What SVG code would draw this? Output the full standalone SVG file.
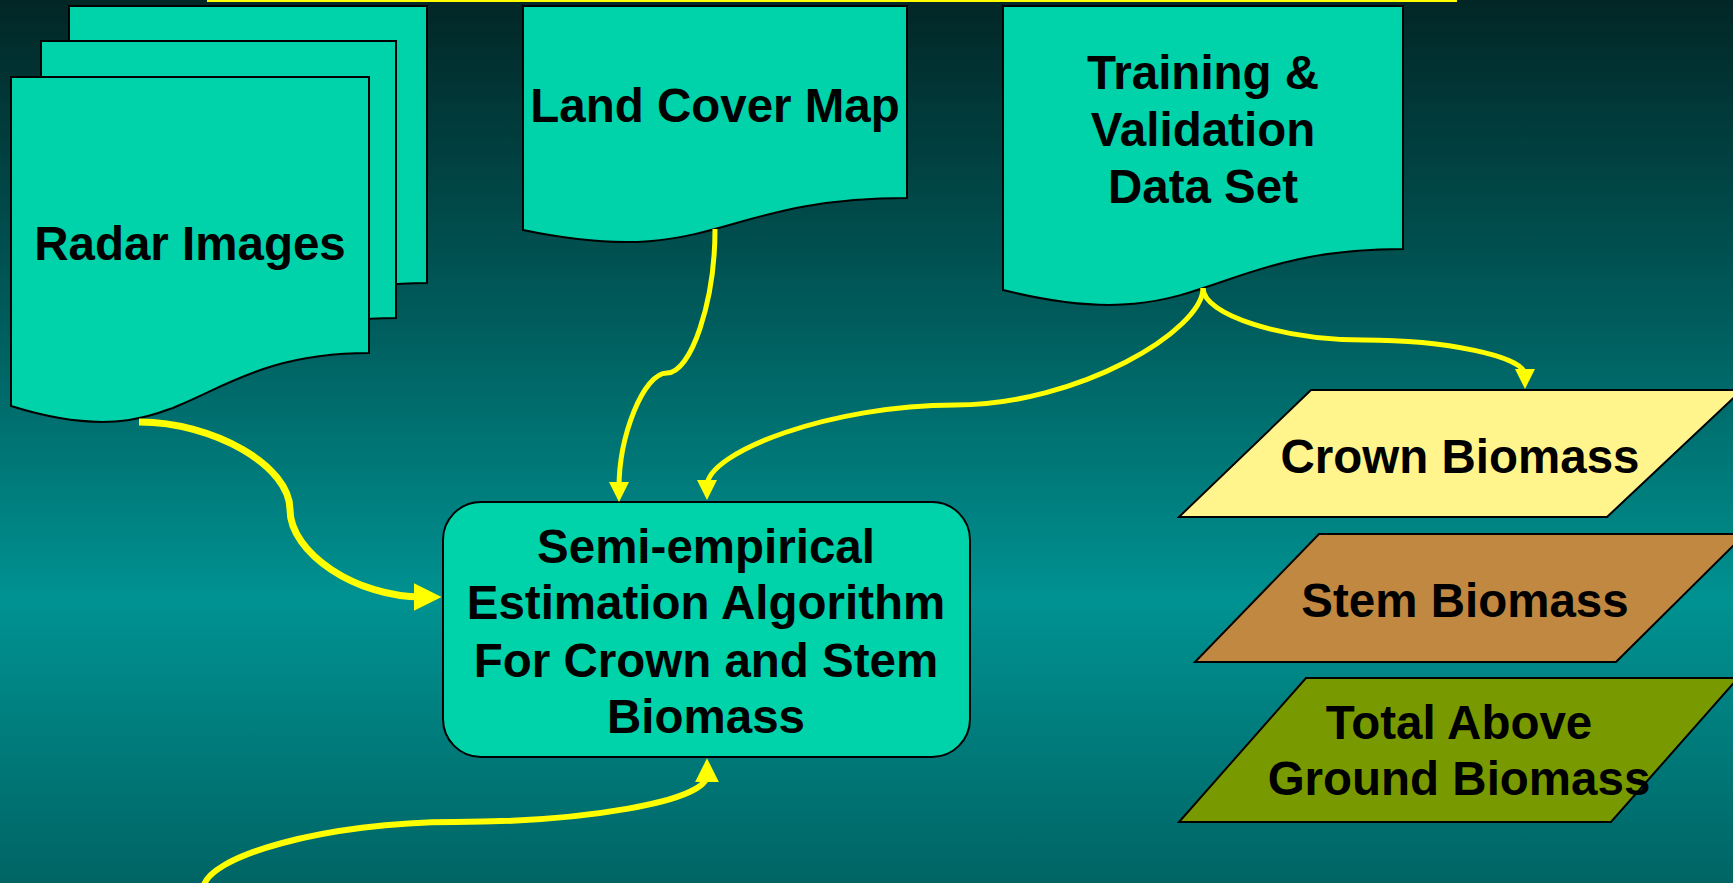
<svg xmlns="http://www.w3.org/2000/svg" width="1733" height="883" viewBox="0 0 1733 883">
  <defs>
    <linearGradient id="bg" x1="0" y1="0" x2="0" y2="1">
      <stop offset="0" stop-color="#022626"/>
      <stop offset="0.35" stop-color="#005a5a"/>
      <stop offset="0.68" stop-color="#009292"/>
      <stop offset="1" stop-color="#006464"/>
    </linearGradient>
    <marker id="arrow" viewBox="0 0 10 10" refX="3" refY="5" markerWidth="4" markerHeight="4" orient="auto" markerUnits="strokeWidth">
      <path d="M0,0 L10,5 L0,10 Z" fill="#ffff00"/>
    </marker>
    <style>
      .doc { fill: #00d2aa; stroke: #000; stroke-width: 2; }
      .proc { fill: #00d2aa; stroke: #000; stroke-width: 2; }
      .data { stroke: #000; stroke-width: 2; }
      .lbl { font-family: "Liberation Sans", Arial, sans-serif; font-weight: bold; font-size: 47.5px; fill: #000; text-anchor: middle; }
      .conn { fill: none; stroke: #ffff00; stroke-width: 5; marker-end: url(#arrow); }
    </style>
  </defs>

  <!-- backdrop -->
  <rect x="0" y="0" width="1733" height="883" fill="url(#bg)"/>
  <!-- lower edge of the title frame -->
  <line x1="207" y1="0.5" x2="1457" y2="0.5" stroke="#ffff00" stroke-width="3"/>

  <!-- stacked documents: radar images -->
  <g id="radar-images">
    <path class="doc" d="M69,6 H427 V283 C248,283 248,391 69,335 Z"/>
    <path class="doc" d="M41,41 H396 V318 C218,318 218,426 41,370 Z"/>
    <path class="doc" d="M11,77 H369 V353 C190,353 190,462 11,406 Z"/>
    <text class="lbl" x="190" y="260">Radar Images</text>
  </g>

  <!-- document: land cover map -->
  <g id="land-cover-map">
    <path class="doc" d="M523,6 H907 V198 C715,198 715,270 523,230 Z"/>
    <text class="lbl" x="715" y="122">Land Cover Map</text>
  </g>

  <!-- document: training and validation data -->
  <g id="training-validation">
    <path class="doc" d="M1003,6 H1403 V249 C1203,249 1203,340 1003,290 Z"/>
    <text class="lbl" x="1203" y="89">Training &amp;</text>
    <text class="lbl" x="1203" y="146">Validation</text>
    <text class="lbl" x="1203" y="203">Data Set</text>
  </g>

  <!-- process: estimation algorithm -->
  <g id="estimation-algorithm">
    <rect class="proc" x="443" y="502" width="527" height="255" rx="38" ry="38"/>
    <text class="lbl" x="706" y="563">Semi-empirical</text>
    <text class="lbl" x="706" y="619">Estimation Algorithm</text>
    <text class="lbl" x="706" y="677">For Crown and Stem</text>
    <text class="lbl" x="706" y="733">Biomass</text>
  </g>

  <!-- outputs -->
  <g id="crown-biomass">
    <polygon class="data" fill="#fff58c" points="1311,390 1742,390 1607,517 1179,517"/>
    <text class="lbl" x="1460" y="473">Crown Biomass</text>
  </g>
  <g id="stem-biomass">
    <polygon class="data" fill="#c08840" points="1319,534 1745,534 1616,662 1195,662"/>
    <text class="lbl" x="1465" y="617">Stem Biomass</text>
  </g>
  <g id="total-biomass">
    <polygon class="data" fill="#789a00" points="1306,678 1738,678 1611,822 1179,822"/>
    <text class="lbl" x="1459" y="739">Total Above</text>
    <text class="lbl" x="1459" y="795">Ground Biomass</text>
  </g>

  <!-- connectors -->
  <g id="connectors">
    <path class="conn" style="stroke-width:7" d="M139,422 C214,422 290,466 290,509.5 C290,553 356,597 422,597"/>
    <path class="conn" d="M715,229 C715,302 691,373 667,373 C643,373 619,437 619,488"/>
    <path class="conn" d="M1203,288 C1203,330 1079,405 955,405 C831,405 707,452 707,486"/>
    <path class="conn" d="M1203,288 C1203,315 1283,340 1364,340 C1444,340 1525,356 1525,375"/>
    <path class="conn" style="stroke-width:6" d="M203,890 C203,856 328,822 455,822 C581,822 707,802 707,775"/>
  </g>
</svg>
